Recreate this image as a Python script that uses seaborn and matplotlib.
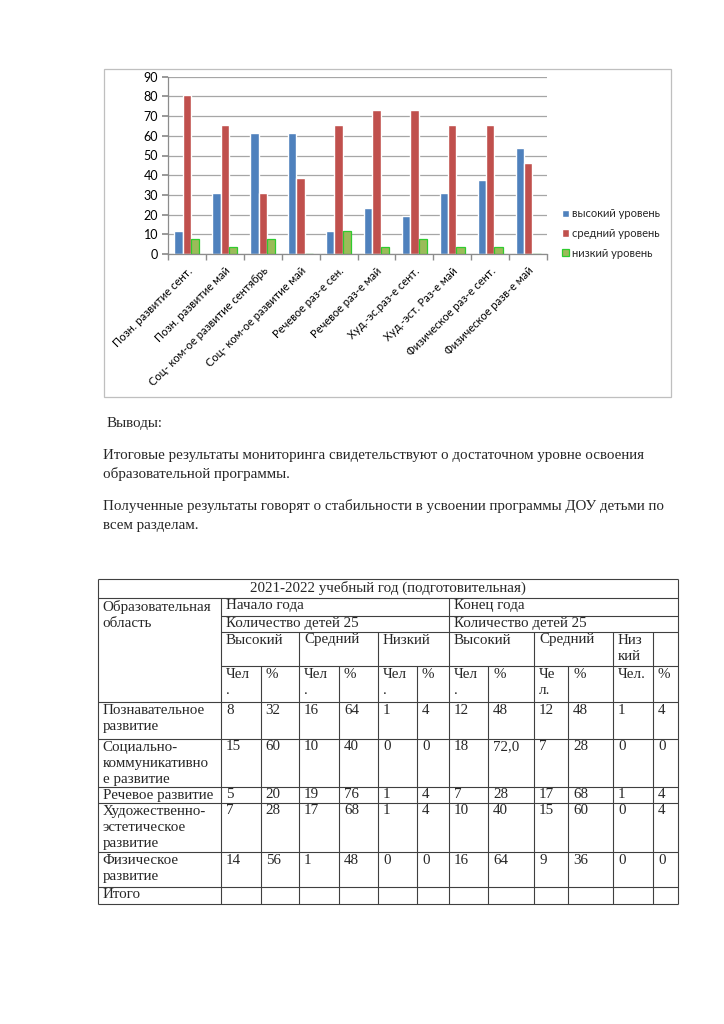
import matplotlib
matplotlib.use("Agg")
import matplotlib.pyplot as plt
import seaborn as sns
import pandas as pd
from matplotlib.patches import Rectangle, Patch
from matplotlib.ticker import FixedLocator

# chart data
categories = ["Позн. развитие сент.", "Позн. развитие май", "Соц- ком-ое развитие сентябрь",
              "Соц- ком-ое развитие май", "Речевое раз-е сен.", "Речевое раз-е май",
              "Худ.-эс.раз-е сент.", "Худ.-эст. Раз-е май", "Физическое раз-е сент.",
              "Физическое разв-е май"]
high = [11.5, 30.8, 61.5, 61.5, 11.5, 23.1, 19.2, 30.8, 37.5, 53.8]
mid = [80.8, 65.4, 30.8, 38.5, 65.4, 73.0, 73.0, 65.4, 65.4, 46.2]
low = [7.7, 3.8, 7.7, 0, 11.5, 3.8, 7.7, 3.8, 3.8, 0]
levels = ["высокий уровень", "средний уровень", "низкий уровень"]

# table data
table_title = "2021-2022 учебный год (подготовительная)"
areas = ["Познавательное\nразвитие", "Социально-\nкоммуникативно\nе развитие", "Речевое развитие",
         "Художественно-\nэстетическое\nразвитие", "Физическое\nразвитие", "Итого"]
rows = [
    ["8", "32", "16", "64", "1", "4", "12", "48", "12", "48", "1", "4"],
    ["15", "60", "10", "40", "0", "0", "18", "72,0", "7", "28", "0", "0"],
    ["5", "20", "19", "76", "1", "4", "7", "28", "17", "68", "1", "4"],
    ["7", "28", "17", "68", "1", "4", "10", "40", "15", "60", "0", "4"],
    ["14", "56", "1", "48", "0", "0", "16", "64", "9", "36", "0", "0"],
    ["", "", "", "", "", "", "", "", "", "", "", ""],
]
sub_heads = ["Чел\n.", "%", "Чел\n.", "%", "Чел\n.", "%", "Чел\n.", "%", "Че\nл.", "%", "Чел.", "%"]

df = pd.DataFrame({
    "cat": categories * 3,
    "val": high + mid + low,
    "lvl": [levels[0]] * 10 + [levels[1]] * 10 + [levels[2]] * 10,
})

sns.set_theme(style="white")
W, H = 724, 1024
fig = plt.figure(figsize=(W / 100, H / 100), dpi=100)

bg = fig.add_axes([0, 0, 1, 1])
bg.set_xlim(0, W)
bg.set_ylim(H, 0)
bg.axis("off")

# chart frame
bg.add_patch(Rectangle((104, 69), 567, 328, fill=False, edgecolor="#BFBFBF", lw=0.9))

x0, x1, y0, y1 = 168, 547, 254, 76.7
ax = fig.add_axes([x0 / W, 1 - y0 / H, (x1 - x0) / W, (y0 - y1) / H])
ax.patch.set_alpha(0)
colors = ["#4F81BD", "#C0504D", "#9BBB59"]
sns.barplot(data=df, x="cat", y="val", hue="lvl", palette=colors, width=0.66,
            saturation=1, ax=ax, legend=False)
for bar in ax.patches[20:30]:
    bar.set_edgecolor("#2FCB2F")
    bar.set_linewidth(0.9)

ax.set_ylim(0, 90)
ax.set_xlim(-0.5, 9.5)
ax.set_yticks(range(0, 91, 10))
ax.yaxis.grid(True, color="#A6A6A6", lw=0.9)
ax.set_axisbelow(True)
ax.set_xlabel("")
ax.set_ylabel("")
for s in ["top", "right"]:
    ax.spines[s].set_visible(False)
for s in ["left", "bottom"]:
    ax.spines[s].set_color("#8C8C8C")
    ax.spines[s].set_linewidth(0.9)
ax.tick_params(axis="y", left=True, length=4, color="#8C8C8C", labelsize=9, pad=3)
ax.tick_params(axis="x", bottom=False, labelsize=8, pad=2)
ax.xaxis.set_minor_locator(FixedLocator([i - 0.5 for i in range(11)]))
ax.tick_params(axis="x", which="minor", bottom=True, length=4, color="#8C8C8C")
ax.set_xticks(range(10))
ax.set_xticklabels(categories, rotation=45, ha="right", rotation_mode="anchor")
for lab in ax.get_xticklabels() + ax.get_yticklabels():
    lab.set_family(["Lato", "DejaVu Sans"])
    lab.set_color("#000000")

handles = [Patch(facecolor=colors[0]), Patch(facecolor=colors[1]),
           Patch(facecolor=colors[2], edgecolor="#2FCB2F", lw=0.9)]
fig.legend(handles, levels, loc="upper left", bbox_to_anchor=(552 / W, 1 - 198 / H),
           frameon=False, handlelength=0.6, handleheight=0.6, handletextpad=0.3,
           labelspacing=0.8, prop={"family": "Lato", "size": 8})

# paragraphs
serif = ["Liberation Serif", "DejaVu Serif"]
fs = 10.8
paras = [(107, 424, "Выводы:"),
         (103, 455, "Итоговые результаты мониторинга свидетельствуют о достаточном уровне освоения"),
         (103, 474, "образовательной программы."),
         (103, 506, "Полученные результаты говорят о стабильности в усвоении программы ДОУ детьми по"),
         (103, 526, "всем разделам.")]
for px, py, t in paras:
    bg.text(px, py, t, fontsize=fs, family=serif, va="center", ha="left")

# table grid
cx = [97.7, 221, 260.7, 299, 339, 378, 417, 449, 488, 534, 568, 613, 653, 678]
ry = [579, 598, 616, 632, 666, 702, 739, 787, 803, 852, 887, 904]
lc, lw = "#404040", 0.8
def hl(y, xa, xb):
    bg.plot([xa, xb], [y, y], color=lc, lw=lw, solid_capstyle="butt")
def vl(x, ya, yb):
    bg.plot([x, x], [ya, yb], color=lc, lw=lw, solid_capstyle="butt")

hl(ry[0], cx[0], cx[-1])
hl(ry[1], cx[0], cx[-1])
for y in ry[2:5]:
    hl(y, cx[1], cx[-1])
for y in ry[5:]:
    hl(y, cx[0], cx[-1])
vl(cx[0], ry[0], ry[-1])
vl(cx[-1], ry[0], ry[-1])
vl(cx[1], ry[1], ry[-1])
vl(cx[7], ry[1], ry[-1])
for i in [3, 5, 9, 11, 12]:
    vl(cx[i], ry[3], ry[-1])
for i in [2, 4, 6, 8, 10]:
    vl(cx[i], ry[4], ry[-1])

def cell(x, y, t):
    bg.text(x + 5, y + 1.5, t, fontsize=fs, family=serif, va="top", ha="left", linespacing=1.32)

bg.text((cx[0] + cx[-1]) / 2, ry[0] + 1.5, table_title, fontsize=fs, family=serif,
        va="top", ha="center")
cell(cx[0], ry[1], "Образовательная\nобласть")
cell(cx[1], ry[1], "Начало года")
cell(cx[7], ry[1], "Конец года")
cell(cx[1], ry[2], "Количество детей 25")
cell(cx[7], ry[2], "Количество детей 25")
for i, t in zip([1, 3, 5, 7, 9, 11], ["Высокий", "Средний", "Низкий", "Высокий", "Средний", "Низ\nкий"]):
    cell(cx[i], ry[3], t)
for i, t in enumerate(sub_heads):
    cell(cx[i + 1], ry[4], t)
for r, (name, vals) in enumerate(zip(areas, rows)):
    cell(cx[0], ry[5 + r], name)
    for i, v in enumerate(vals):
        cell(cx[i + 1], ry[5 + r], v)

fig.savefig("out.png", dpi=100)
